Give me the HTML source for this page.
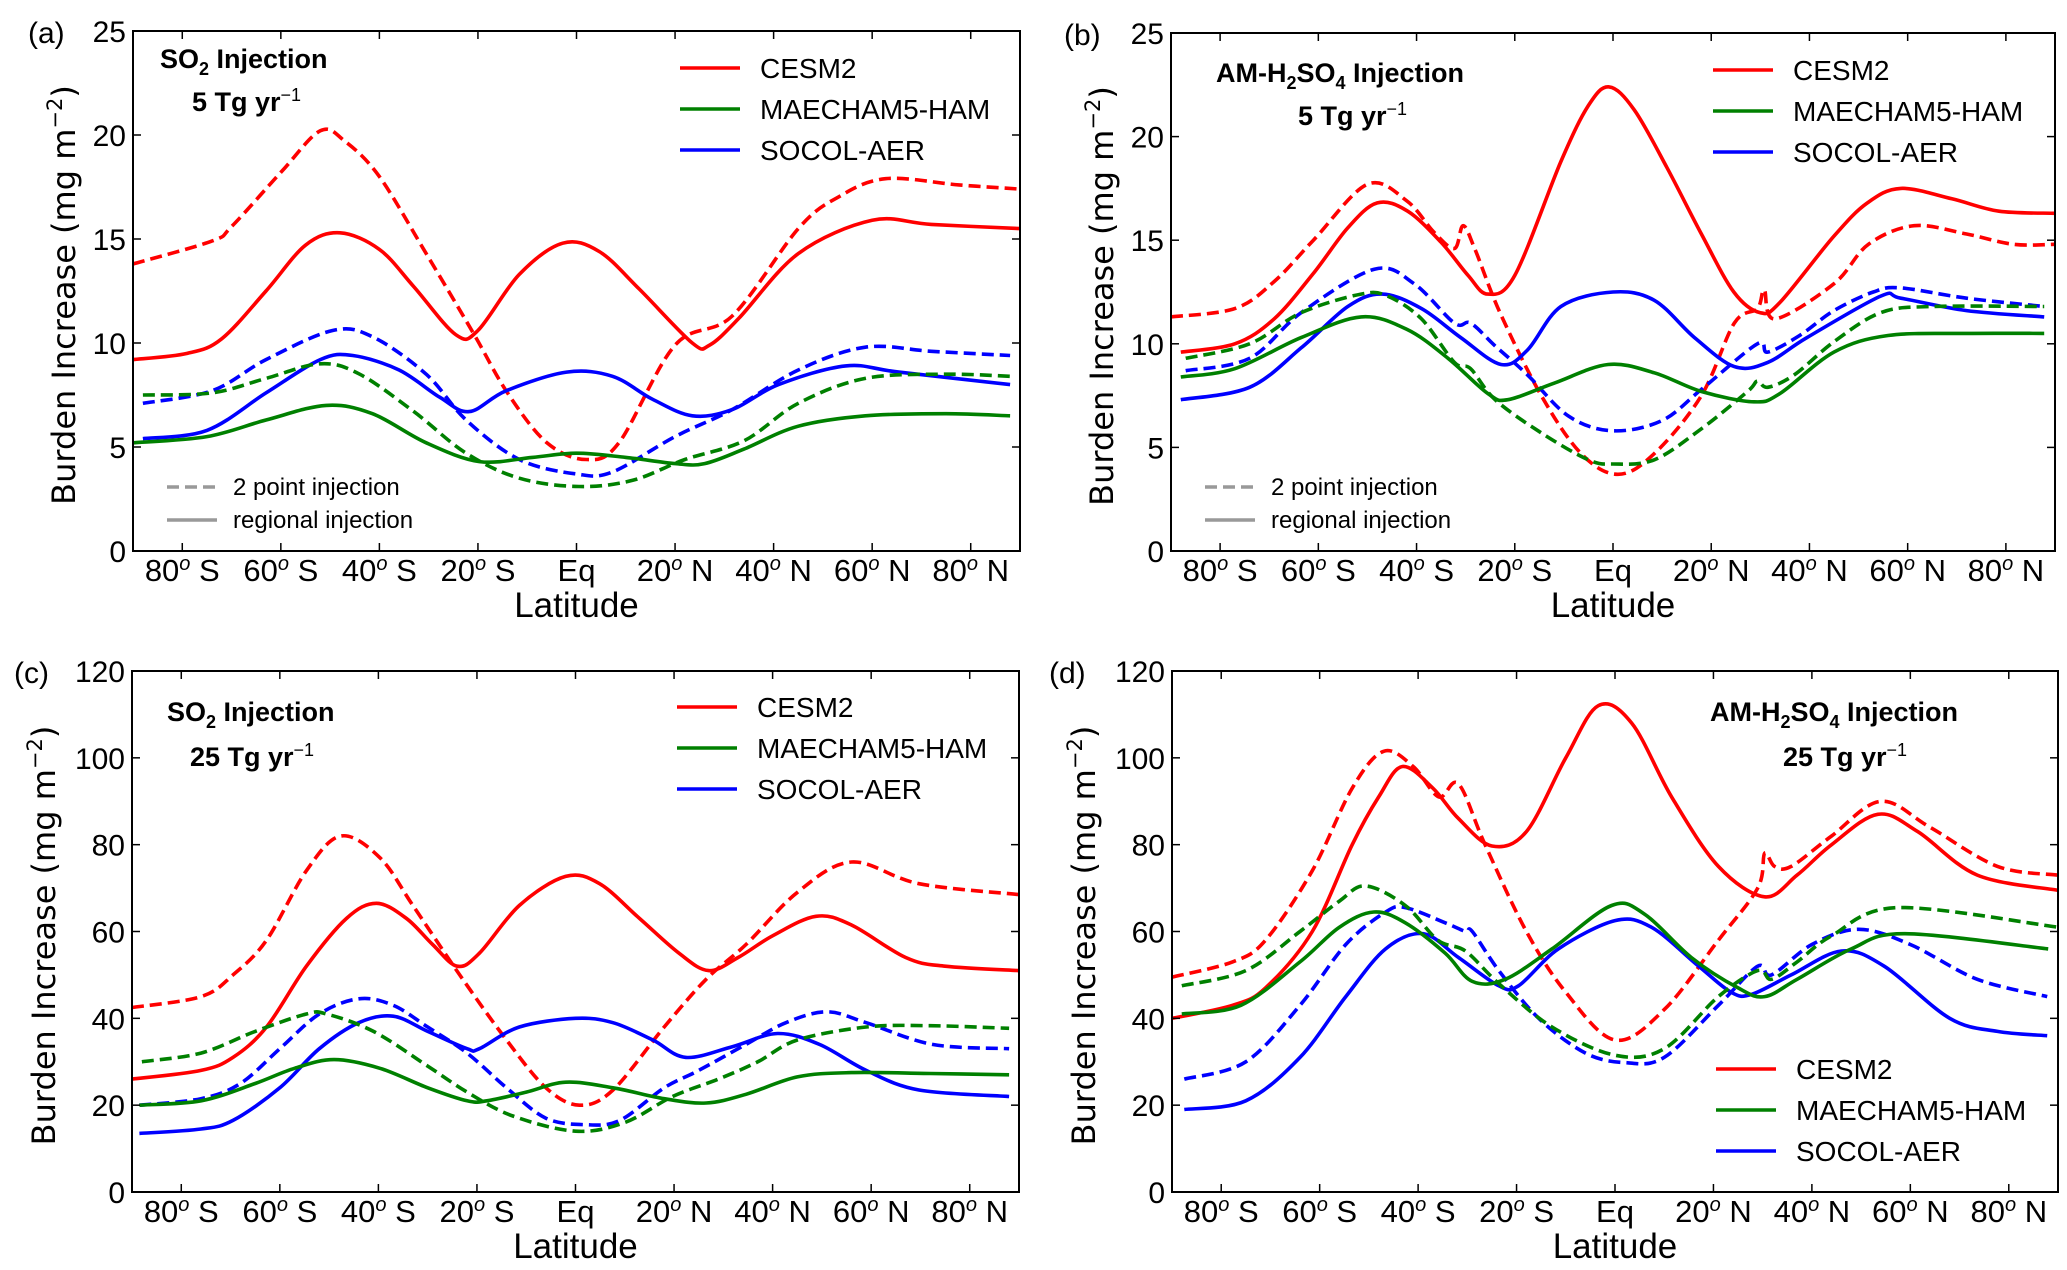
<!DOCTYPE html>
<html><head><meta charset="utf-8">
<style>
body{margin:0;background:#fff;}
svg{display:block;}
text{font-family:"Liberation Sans",sans-serif;fill:#000;}
</style></head>
<body>
<svg id="fig" width="2067" height="1270" viewBox="0 0 2067 1270" xmlns="http://www.w3.org/2000/svg"></svg>
<script>
// ---- data (latitude, burden) ----
const xTicks = [-80,-60,-40,-20,0,20,40,60,80];
const xTickLabels = ["80o S","60o S","40o S","20o S","Eq","20o N","40o N","60o N","80o N"];
const yTicksSmall = [0,5,10,15,20,25];
const yTicksLarge = [0,20,40,60,80,100,120];

const aRedDash = [[-90,13.8],[-74,14.9],[-70,15.6],[-60,18.2],[-52,20.2],[-47,19.7],[-40,18],[-30.5,14.3],[-21,10.5],[-14,7.6],[-6,5.2],[2,4.4],[8.6,5.2],[20,9.9],[31.6,11.3],[45,15.5],[53,17],[62.7,17.9],[77.6,17.6],[90,17.4]];
const aRedSolid = [[-90,9.2],[-79,9.5],[-72,10.2],[-63,12.5],[-55,14.7],[-48,15.3],[-40,14.5],[-33,12.7],[-24.5,10.4],[-20,10.6],[-11.6,13.3],[-2.8,14.8],[4.6,14.4],[12.7,12.6],[23.5,10.0],[27,9.9],[33,11.2],[45,14.3],[60,15.9],[72,15.7],[90,15.5]];
const aBlueDash = [[-88,7.1],[-74,7.7],[-63,9.2],[-49.5,10.6],[-41.4,10.3],[-30.5,8.5],[-22.4,6.3],[-11.6,4.4],[0,3.7],[7.3,3.8],[20,5.5],[31.6,6.8],[45,8.7],[58.6,9.8],[72,9.6],[88,9.4]];
const aBlueSolid = [[-88,5.4],[-75,5.8],[-63,7.6],[-52,9.2],[-45.4,9.4],[-36,8.7],[-27.8,7.4],[-21.8,6.7],[-14.3,7.7],[-2,8.6],[7.3,8.4],[15.4,7.3],[23.5,6.5],[31.6,6.8],[41,8.0],[54.6,8.9],[65.4,8.6],[88,8.0]];
const aGreenDash = [[-88,7.5],[-74,7.6],[-63,8.3],[-52,9.0],[-44,8.5],[-33,6.7],[-22.4,4.7],[-11.6,3.5],[0.5,3.1],[11.4,3.4],[22,4.4],[34,5.3],[45,7.1],[58.6,8.3],[75,8.5],[88,8.4]];
const aGreenSolid = [[-90,5.2],[-75,5.5],[-63,6.3],[-50.8,7.0],[-41.4,6.6],[-30.5,5.2],[-19.7,4.3],[-9,4.5],[0,4.7],[10,4.5],[20,4.2],[26,4.2],[34,4.9],[45,6.0],[58.6,6.5],[75,6.6],[88,6.5]];

const bRedSolid = [[-88,9.6],[-77,10.0],[-69,11.2],[-61,13.4],[-54,15.6],[-48,16.8],[-41.8,16.4],[-35,14.9],[-29.5,13.3],[-25.5,12.4],[-20,13.3],[-10.6,18.8],[-5,21.5],[-0.8,22.4],[4.3,21.3],[11,18.5],[18,15.3],[24.6,12.5],[30,11.5],[34,12.0],[45,15.2],[51.8,16.8],[58.6,17.5],[69,17.0],[78.6,16.4],[90,16.3]];
const bRedDash = [[-90,11.3],[-77,11.7],[-69,13.0],[-61,15],[-50,17.7],[-42,16.9],[-36.5,15.4],[-32.3,14.6],[-30.5,15.7],[-28,14.5],[-23,11.5],[-14.6,7.5],[-6.5,4.7],[1,3.7],[8.4,4.7],[18,7.5],[24.7,11.0],[29.4,11.7],[30.8,12.6],[33,11.2],[45,12.9],[52,14.8],[61.3,15.7],[72,15.3],[81.5,14.8],[90,14.8]];
const bBlueDash = [[-87,8.7],[-74,9.3],[-63.5,11.5],[-48.6,13.6],[-40.5,12.9],[-32.3,11.0],[-29,11.0],[-24,9.9],[-17.4,8.5],[-9,6.5],[0,5.8],[10,6.3],[18,7.8],[29.4,10.0],[31.5,9.6],[38,10.4],[45,11.6],[53,12.5],[58.6,12.7],[72,12.2],[87.8,11.8]];
const bBlueSolid = [[-88,7.3],[-74,7.9],[-63.5,9.8],[-54,11.8],[-47,12.4],[-39,11.7],[-31,10.3],[-22.8,9.0],[-17.4,9.7],[-10.6,11.8],[0,12.5],[8.4,12.1],[16.6,10.3],[24.7,8.9],[31.5,9.1],[39.5,10.3],[54.5,12.3],[58.6,12.2],[72,11.6],[87.8,11.3]];
const bGreenDash = [[-87,9.3],[-74,10.0],[-63.5,11.5],[-51.3,12.4],[-45.9,12.3],[-39,11.2],[-32.3,9.1],[-29,8.8],[-24,7.3],[-14.6,5.7],[-5,4.4],[0,4.2],[8.4,4.4],[18,5.9],[27.4,7.7],[29.4,8.2],[31.5,7.9],[36.9,8.5],[45,10.1],[54.5,11.5],[65,11.8],[87.8,11.8]];
const bGreenSolid = [[-88,8.4],[-77,8.8],[-63.5,10.3],[-51.3,11.3],[-42,10.7],[-33.6,9.3],[-25.5,7.6],[-21.4,7.3],[-12,8.1],[-1,9.0],[8.4,8.6],[18,7.7],[28.7,7.2],[34,7.6],[45,9.6],[56,10.4],[72,10.5],[87.8,10.5]];

const cRedSolid = [[-90,26],[-76,28],[-69.5,31],[-62.7,38],[-54.6,52],[-46.5,63],[-40.4,66.5],[-34.3,63],[-29,57],[-24,52],[-19.5,55],[-11.4,66],[-2,72.7],[4.9,71],[13,63],[21,55],[27,51],[33,54],[40,59],[48.8,63.5],[56,61.5],[67,54],[75,52],[90,51]];
const cRedDash = [[-90,42.5],[-76,45],[-69.5,50],[-62.7,58],[-54.6,74],[-47.6,82],[-39.7,77],[-33,66],[-23.5,50],[-14,35],[-6,24],[0.8,20],[7.6,23.5],[18,38],[26.5,49],[34.6,57],[45,69],[56,76],[69.7,71],[90,68.5]];
const cBlueSolid = [[-88.5,13.5],[-76,14.5],[-69.5,16.5],[-60,24],[-52,33],[-44,39],[-37,40.5],[-30,37],[-22,33],[-19.5,33],[-11.4,38],[0,40],[7.6,39],[15.7,35],[22.4,31],[31.9,33.5],[41,36.5],[49.5,34],[59,28],[69.7,23.5],[88,22]];
const cBlueDash = [[-88.5,20],[-76,21.5],[-68,25],[-60,33],[-52,41],[-44,44.5],[-37,43],[-30,38],[-22,32],[-14,24],[-6,17],[2,15.5],[9,16.5],[18,24],[25,28],[34.6,34],[42.7,39],[51,41.5],[59,39],[72.4,34],[88,33]];
const cGreenDash = [[-88,30],[-76,32],[-65,37],[-54.6,41],[-50.5,41],[-41,37],[-30,29],[-22,23],[-12.7,17.5],[0,14],[10,16],[19.7,22],[29,26],[37,30],[45,35],[59,38],[72,38.3],[88,37.7]];
const cGreenSolid = [[-88.5,20],[-76,21],[-65,25],[-57,28.5],[-49,30.5],[-39.7,28.5],[-30,24],[-22,21],[-18,21],[-10,23],[-2,25.3],[7.6,24],[18,21.5],[26.5,20.5],[34.6,22.5],[45,26.5],[56,27.5],[72,27.3],[88,27]];

const dRedSolid = [[-90,40],[-77.7,43],[-71,47],[-61.5,60],[-53.4,80],[-48,91],[-43.2,98],[-37,93],[-31.8,86],[-25,79.7],[-18,83],[-10,100],[-3.4,112],[3.4,108],[11.5,91],[21,75],[30.4,68],[37,73],[44,80],[53.4,87],[61.5,83],[73.6,73],[90,69.5]];
const dRedDash = [[-90,49.5],[-77.7,53],[-71,58],[-61.5,74],[-53.4,93],[-47,101.5],[-41,98],[-35.8,91],[-31.8,94],[-26.4,80],[-18,60],[-10,46],[0,35],[10,42],[21,58],[29,70],[30.4,78],[32.4,75],[35.8,75],[44,82],[54,90],[64,84],[77.7,75],[90,73]];
const dGreenDash = [[-88,47.5],[-75,51],[-64,60],[-56,67],[-50.7,70.5],[-42.6,66],[-36,58],[-30.4,55.5],[-23.6,48],[-12.8,38],[0,31.5],[10,33],[21,45],[29,51],[31.8,49],[37,53],[44,59],[57.4,65.5],[90,61]];
const dGreenSolid = [[-88,41],[-76,43],[-64,53],[-56,61],[-49,64.5],[-42.6,62],[-34.5,55],[-29,48.5],[-22.3,49],[-12.8,56],[-0.7,66],[6,64],[15.5,54],[25,47],[30.4,45],[37,49],[48,56],[58.8,59.5],[88,56]];
const dBlueDash = [[-87.5,26],[-75,30],[-64,43],[-54.7,57],[-46.6,64.5],[-42.6,65.5],[-34.5,62],[-30.4,60],[-29,60],[-23.6,51],[-15.5,40],[-6,32],[2,29.8],[10,31],[21,43],[29,52],[31.8,50],[40,57],[49.5,60.5],[60,57],[73.6,49],[87.8,45]];
const dBlueSolid = [[-87.5,19],[-75,21],[-64,31],[-54.7,45],[-46.6,56],[-39,59.5],[-31.8,54],[-23.6,47.5],[-19.6,47.5],[-11.5,56],[0,62.5],[7.4,61],[17,52],[23.6,46],[27.7,45.5],[35.8,50],[46,55.5],[54.7,52],[68,40],[77.7,37],[87.8,36]];

// ---- drawing ----
const NS = "http://www.w3.org/2000/svg";
const svg = document.getElementById('fig');
function el(tag, attrs, parent){ const e=document.createElementNS(NS,tag); for(const k in attrs) e.setAttribute(k,attrs[k]); (parent||svg).appendChild(e); return e; }
const RED="#ff0000", GREEN="#008000", BLUE="#0000ff";

function smoothPath(pts){
  let d="M"+pts[0][0].toFixed(1)+","+pts[0][1].toFixed(1);
  for(let i=0;i<pts.length-1;i++){
    const p0=pts[Math.max(0,i-1)],p1=pts[i],p2=pts[i+1],p3=pts[Math.min(pts.length-1,i+2)];
    const c1=[p1[0]+(p2[0]-p0[0])/6,p1[1]+(p2[1]-p0[1])/6];
    const c2=[p2[0]-(p3[0]-p1[0])/6,p2[1]-(p3[1]-p1[1])/6];
    d+=" C"+c1[0].toFixed(1)+","+c1[1].toFixed(1)+" "+c2[0].toFixed(1)+","+c2[1].toFixed(1)+" "+p2[0].toFixed(1)+","+p2[1].toFixed(1);
  }
  return d;
}

function panel(cfg){
  const g=el('g',{});
  
  
  const {L,R,T,B,ymax,yticks}=cfg;
  const xs=v=>L+(v+90)/180*(R-L);
  const ys=v=>B-v/ymax*(B-T);
  cfg.series.forEach(s=>{
    const p=el('path',{d:smoothPath(s.data.map(q=>[xs(q[0]),ys(q[1])])),fill:'none',stroke:s.color,'stroke-width':3.6,'stroke-dasharray':s.dash?'12,6':'none','stroke-linejoin':'round'},g);
    
    
  });
  const fr=el('rect',{x:L,y:T,width:R-L,height:B-T,fill:'none',stroke:'#000','stroke-width':2},g);
  
  
  xTicks.forEach((t,i)=>{
    const x=xs(t);
    el('line',{x1:x,y1:B,x2:x,y2:B-8,stroke:'#000','stroke-width':1.5},g);
    el('line',{x1:x,y1:T,x2:x,y2:T+8,stroke:'#000','stroke-width':1.5},g);
    const tx=el('text',{x:x,y:B+30,'text-anchor':'middle','font-size':31},g);
    const lab=xTickLabels[i];
    if(lab==="Eq"){ tx.textContent="Eq"; }
    else { const parts=lab.split("o"); tx.appendChild(document.createTextNode(parts[0]));
      const sp=el('tspan',{dy:-11,'font-size':20,'font-style':'italic'},tx); sp.textContent="o";
      const sp2=el('tspan',{dy:11},tx); sp2.textContent=parts[1]; }
    
    
  });
  yticks.forEach(t=>{
    const y=ys(t);
    el('line',{x1:L,y1:y,x2:L+8,y2:y,stroke:'#000','stroke-width':1.5},g);
    el('line',{x1:R,y1:y,x2:R-8,y2:y,stroke:'#000','stroke-width':1.5},g);
    const tx=el('text',{x:L-7,y:y+11,'text-anchor':'end','font-size':30},g);
    tx.textContent=t;
    
    
  });
  const xl=el('text',{x:(L+R)/2,y:B+66,'text-anchor':'middle','font-size':35},g);
  xl.textContent="Latitude";
  
  
  const cy=(T+B)/2+4, cx=L-cfg.ylOff;
  const yl=el('text',{x:cx,y:cy,'text-anchor':'middle','font-size':32,transform:`rotate(-90 ${cx} ${cy})`,style:'font-family:"DejaVu Sans",sans-serif'},g);
  yl.innerHTML='Burden Increase (mg m<tspan dy="-13" font-size="21">−2</tspan><tspan dy="13">)</tspan>';
  
  
  const pl=el('text',{x:cfg.letterX,y:T+12,'font-size':30},g);
  pl.textContent=cfg.letter;
  
  
  const t1=el('text',{x:cfg.tx,y:cfg.ty1,'font-size':27,'font-weight':'bold'},g);
  t1.innerHTML=cfg.title;
  
  
  const t2=el('text',{x:cfg.tx2,y:cfg.ty2,'font-size':27,'font-weight':'bold'},g);
  t2.innerHTML=cfg.rate+' Tg yr<tspan dy="-10" font-size="18" font-weight="normal">−1</tspan>';
  
  
  [["CESM2",RED],["MAECHAM5-HAM",GREEN],["SOCOL-AER",BLUE]].forEach((m,i)=>{
    const y=cfg.legY+i*41;
    const ln=el('line',{x1:cfg.legX,y1:y,x2:cfg.legX+60,y2:y,stroke:m[1],'stroke-width':3.6},g);
    
    
    const tt=el('text',{x:cfg.legX+80,y:y+10,'font-size':28},g);
    tt.textContent=m[0];
    
    
  });
  if(cfg.styleLeg){
    const sx=L+34;
    [["2 point injection",'12,6',487],["regional injection",'none',520]].forEach(s=>{
      const ln=el('line',{x1:sx,y1:s[2],x2:sx+50,y2:s[2],stroke:'#999','stroke-width':3.6,'stroke-dasharray':s[1]},g);
      
      
      const tt=el('text',{x:sx+66,y:s[2]+8,'font-size':24},g);
      tt.textContent=s[0];
      
      
    });
  }
}
panel({name:'panel-a',letter:'(a)',letterX:28,L:133,R:1020,T:31,B:551,ymax:25,yticks:yTicksSmall,ylOff:58,
  tx:160,ty1:68,tx2:192,ty2:111,title:'SO<tspan dy="7" font-size="18">2</tspan><tspan dy="-7"> Injection</tspan>',rate:'5',
  legX:680,legY:68,styleLeg:true,
  series:[{id:'cesm2-2pt',data:aRedDash,color:RED,dash:1},{id:'cesm2-regional',data:aRedSolid,color:RED},
    {id:'socol-2pt',data:aBlueDash,color:BLUE,dash:1},{id:'socol-regional',data:aBlueSolid,color:BLUE},
    {id:'maecham-2pt',data:aGreenDash,color:GREEN,dash:1},{id:'maecham-regional',data:aGreenSolid,color:GREEN}]});
panel({name:'panel-b',letter:'(b)',letterX:1064,L:1171,R:2055,T:33,B:551,ymax:25,yticks:yTicksSmall,ylOff:58,
  tx:1216,ty1:82,tx2:1298,ty2:125,title:'AM-H<tspan dy="7" font-size="18">2</tspan><tspan dy="-7">SO</tspan><tspan dy="7" font-size="18">4</tspan><tspan dy="-7"> Injection</tspan>',rate:'5',
  legX:1713,legY:70,styleLeg:true,
  series:[{id:'cesm2-2pt',data:bRedDash,color:RED,dash:1},{id:'cesm2-regional',data:bRedSolid,color:RED},
    {id:'socol-2pt',data:bBlueDash,color:BLUE,dash:1},{id:'socol-regional',data:bBlueSolid,color:BLUE},
    {id:'maecham-2pt',data:bGreenDash,color:GREEN,dash:1},{id:'maecham-regional',data:bGreenSolid,color:GREEN}]});
panel({name:'panel-c',letter:'(c)',letterX:14,L:132,R:1019,T:671,B:1192,ymax:120,yticks:yTicksLarge,ylOff:77,
  tx:167,ty1:721,tx2:190,ty2:766,title:'SO<tspan dy="7" font-size="18">2</tspan><tspan dy="-7"> Injection</tspan>',rate:'25',
  legX:677,legY:707,styleLeg:false,
  series:[{id:'cesm2-2pt',data:cRedDash,color:RED,dash:1},{id:'cesm2-regional',data:cRedSolid,color:RED},
    {id:'socol-2pt',data:cBlueDash,color:BLUE,dash:1},{id:'socol-regional',data:cBlueSolid,color:BLUE},
    {id:'maecham-2pt',data:cGreenDash,color:GREEN,dash:1},{id:'maecham-regional',data:cGreenSolid,color:GREEN}]});
panel({name:'panel-d',letter:'(d)',letterX:1049,L:1172,R:2058,T:671,B:1192,ymax:120,yticks:yTicksLarge,ylOff:77,
  tx:1710,ty1:721,tx2:1783,ty2:766,title:'AM-H<tspan dy="7" font-size="18">2</tspan><tspan dy="-7">SO</tspan><tspan dy="7" font-size="18">4</tspan><tspan dy="-7"> Injection</tspan>',rate:'25',
  legX:1716,legY:1069,styleLeg:false,
  series:[{id:'cesm2-2pt',data:dRedDash,color:RED,dash:1},{id:'cesm2-regional',data:dRedSolid,color:RED},
    {id:'socol-2pt',data:dBlueDash,color:BLUE,dash:1},{id:'socol-regional',data:dBlueSolid,color:BLUE},
    {id:'maecham-2pt',data:dGreenDash,color:GREEN,dash:1},{id:'maecham-regional',data:dGreenSolid,color:GREEN}]});
</script>
</body></html>
